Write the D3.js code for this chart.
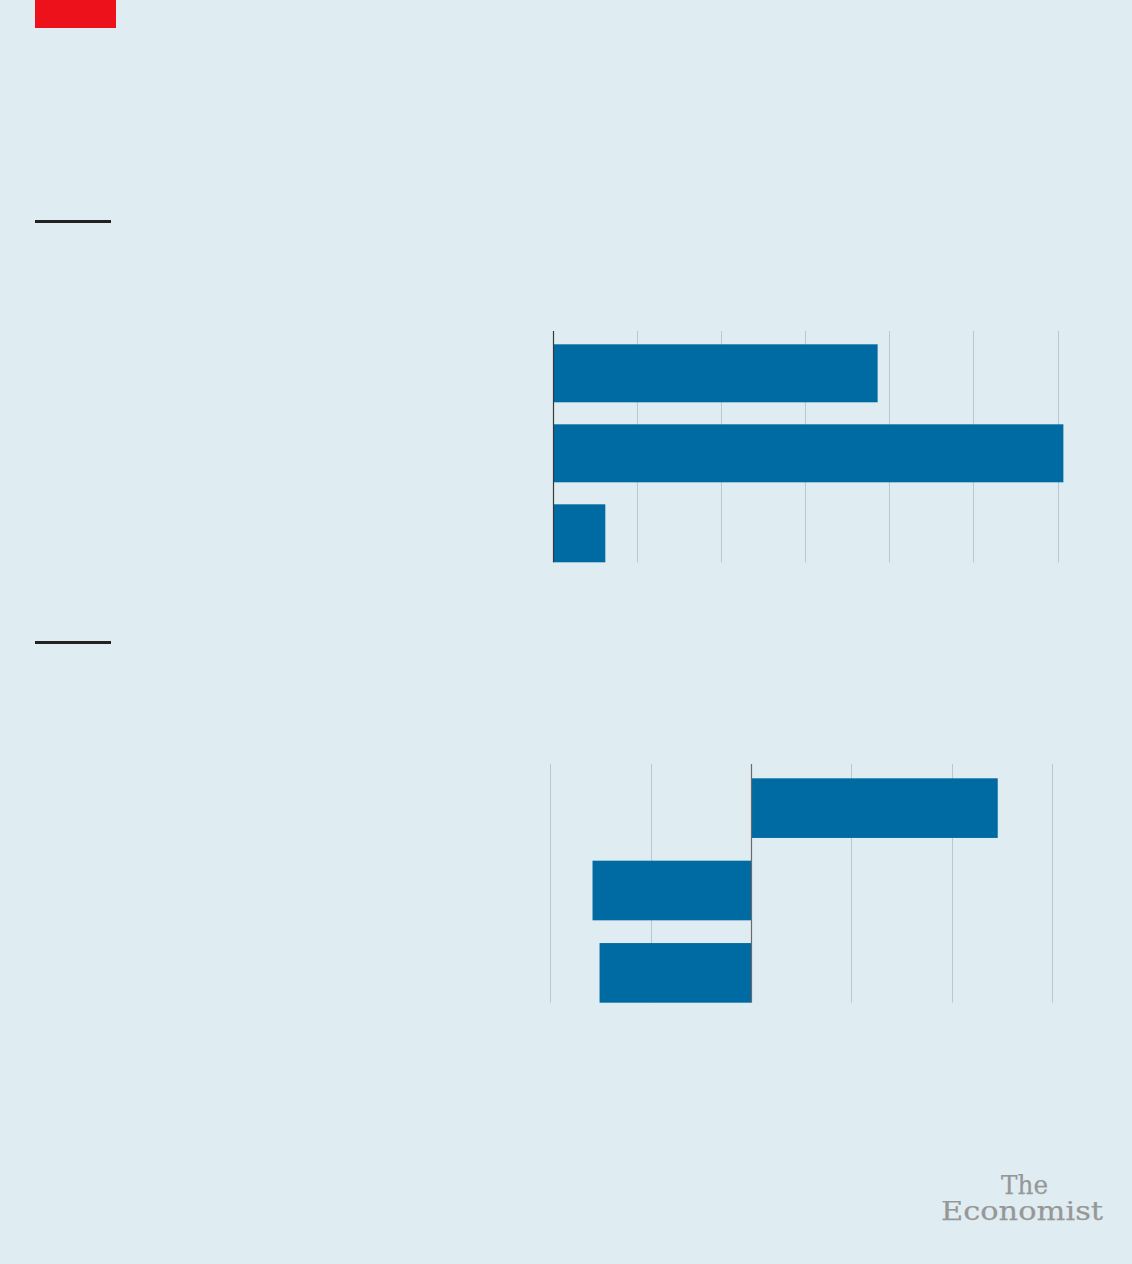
<!DOCTYPE html>
<html>
<head>
<meta charset="utf-8">
<script src="https://cdn.jsdelivr.net/npm/d3@7"></script>
<style>
  html, body { margin: 0; padding: 0; background: #dfedf3; }
  svg { display: block; }
</style>
</head>
<body>
<script>
// ---- Data (no labels are shown in the reference) ----
const topCategories = ["Item 1", "Item 2", "Item 3"];
const topValues = [3.86, 6.07, 0.62];
const topTicks = [0, 1, 2, 3, 4, 5, 6];

const bottomCategories = ["Item 1", "Item 2", "Item 3"];
const bottomValues = [2.46, -1.58, -1.51];
const bottomTicks = [-2, -1, 0, 1, 2, 3];

const W = 1132, H = 1264;
const BG = "#dfedf3", BAR = "#006ba2", GRID = "#b8c8d0", AXIS = "#3a3a3a";

const svg = d3.select("body").append("svg")
  .attr("width", W).attr("height", H);

svg.append("rect").attr("width", W).attr("height", H).attr("fill", BG);

// Red tag
svg.append("rect").attr("x", 35).attr("y", 0).attr("width", 81).attr("height", 28)
  .attr("fill", "#ed111c");

// Section rules
[221.5, 642.5].forEach(y => {
  svg.append("line").attr("x1", 35).attr("x2", 111).attr("y1", y).attr("y2", y)
    .attr("stroke", "#222").attr("stroke-width", 3);
});

function drawPanel(cfg) {
  const x = d3.scaleLinear().domain(cfg.domain).range(cfg.xRange);
  const y = d3.scaleBand().domain(cfg.categories).range(cfg.yRange)
    .paddingInner(cfg.padInner).paddingOuter(0);
  const g = svg.append("g");

  // gridlines
  g.selectAll("line.grid").data(cfg.ticks.filter(t => t !== 0)).join("line")
    .attr("class", "grid")
    .attr("x1", d => Math.round(x(d)) + 0.5).attr("x2", d => Math.round(x(d)) + 0.5)
    .attr("y1", cfg.gridTop).attr("y2", cfg.yRange[1])
    .attr("stroke", GRID).attr("stroke-width", 1);

  // bars
  g.selectAll("rect.bar").data(cfg.values).join("rect")
    .attr("class", "bar")
    .attr("x", d => x(Math.min(0, d)))
    .attr("width", d => Math.abs(x(d) - x(0)))
    .attr("y", (d, i) => y(cfg.categories[i]))
    .attr("height", y.bandwidth())
    .attr("fill", BAR);

  // zero axis
  g.append("line")
    .attr("x1", Math.round(x(0)) + 0.5).attr("x2", Math.round(x(0)) + 0.5)
    .attr("y1", cfg.gridTop).attr("y2", cfg.yRange[1])
    .attr("stroke", cfg.axisColor).attr("stroke-width", 1.2);
}

drawPanel({
  categories: topCategories, values: topValues, ticks: topTicks,
  domain: [0, 6], xRange: [553.2, 1057.5],
  yRange: [344.3, 562.3], padInner: 0.275, gridTop: 331,
  axisColor: AXIS
});

drawPanel({
  categories: bottomCategories, values: bottomValues, ticks: bottomTicks,
  domain: [-2, 3], xRange: [550.4, 1051.9],
  yRange: [778.3, 1002.7], padInner: 0.276, gridTop: 764,
  axisColor: "#6a6a6a"
});

// Logo (one text element, two lines)
const logo = svg.append("text")
  .attr("fill", "#979797")
  .attr("stroke", "#979797").attr("stroke-width", 0.25)
  .attr("font-family", "'DejaVu Serif', 'Liberation Serif', serif")
  .attr("font-size", 26)
  .attr("text-anchor", "middle");
logo.append("tspan").attr("x", 1024.5).attr("y", 1194)
  .attr("textLength", 47).attr("lengthAdjust", "spacingAndGlyphs")
  .text("The");
logo.append("tspan").attr("x", 1022).attr("y", 1220)
  .attr("textLength", 162).attr("lengthAdjust", "spacingAndGlyphs")
  .text("Economist");
</script>
</body>
</html>
